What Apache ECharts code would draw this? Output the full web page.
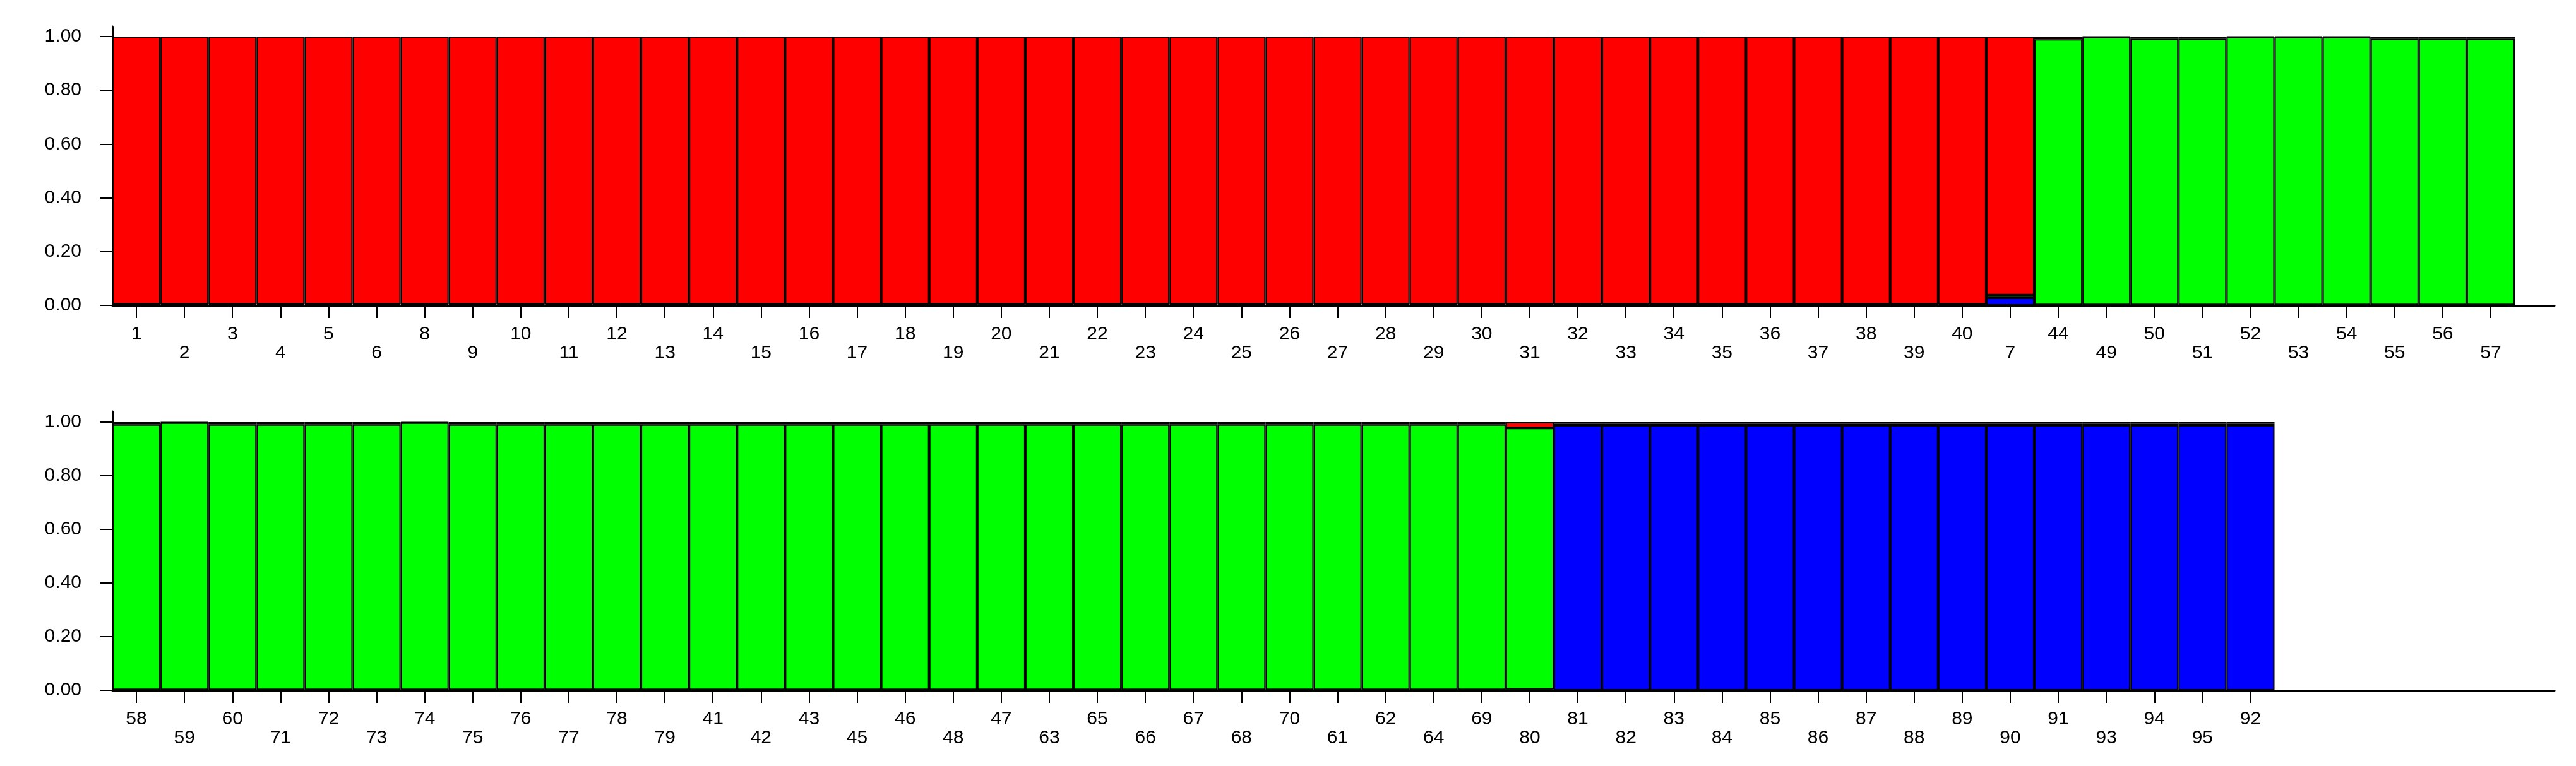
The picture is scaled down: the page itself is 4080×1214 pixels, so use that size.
<!DOCTYPE html>
<html>
<head>
<meta charset="utf-8">
<script src="https://cdn.jsdelivr.net/npm/echarts@6/dist/echarts.min.js"></script>
<style>
html,body{margin:0;padding:0;background:#fff;}
#chart{width:4080px;height:1214px;}
</style>
</head>
<body>
<div id="chart"></div>
<script>
// ---- Data ----
const topCategories = ['1','2','3','4','5','6','8','9','10','11','12','13','14','15','16','17','18','19','20','21','22','23','24','25','26','27','28','29','30','31','32','33','34','35','36','37','38','39','40','7','44','49','50','51','52','53','54','55','56','57'];
const topRed   = [0.996,0.996,0.996,0.996,0.996,0.996,0.996,0.996,0.996,0.996,0.996,0.996,0.996,0.996,0.996,0.996,0.996,0.996,0.996,0.996,0.996,0.996,0.996,0.996,0.996,0.996,0.996,0.996,0.996,0.996,0.996,0.996,0.996,0.996,0.996,0.996,0.996,0.996,0.996,0.962,0.010,0.002,0.009,0.009,0.002,0.002,0.002,0.009,0.009,0.009];
const topGreen = [0.002,0.002,0.002,0.002,0.002,0.002,0.002,0.002,0.002,0.002,0.002,0.002,0.002,0.002,0.002,0.002,0.002,0.002,0.002,0.002,0.002,0.002,0.002,0.002,0.002,0.002,0.002,0.002,0.002,0.002,0.002,0.002,0.002,0.002,0.002,0.002,0.002,0.002,0.002,0.010,0.988,0.996,0.989,0.989,0.996,0.996,0.996,0.989,0.989,0.989];
const topBlue  = [0.002,0.002,0.002,0.002,0.002,0.002,0.002,0.002,0.002,0.002,0.002,0.002,0.002,0.002,0.002,0.002,0.002,0.002,0.002,0.002,0.002,0.002,0.002,0.002,0.002,0.002,0.002,0.002,0.002,0.002,0.002,0.002,0.002,0.002,0.002,0.002,0.002,0.002,0.002,0.028,0.002,0.002,0.002,0.002,0.002,0.002,0.002,0.002,0.002,0.002];

const bottomCategories = ['58','59','60','71','72','73','74','75','76','77','78','79','41','42','43','45','46','48','47','63','65','66','67','68','70','61','62','64','69','80','81','82','83','84','85','86','87','88','89','90','91','93','94','95','92'];
const bottomRed   = [0.009,0.002,0.009,0.009,0.009,0.009,0.002,0.009,0.009,0.009,0.009,0.009,0.009,0.009,0.009,0.009,0.009,0.009,0.009,0.009,0.009,0.009,0.009,0.009,0.009,0.009,0.009,0.009,0.009,0.022,0.006,0.006,0.006,0.006,0.006,0.006,0.006,0.006,0.006,0.006,0.006,0.006,0.006,0.006,0.006];
const bottomGreen = [0.989,0.996,0.989,0.989,0.989,0.989,0.996,0.989,0.989,0.989,0.989,0.989,0.989,0.989,0.989,0.989,0.989,0.989,0.989,0.989,0.989,0.989,0.989,0.989,0.989,0.989,0.989,0.989,0.989,0.975,0.006,0.006,0.006,0.006,0.006,0.006,0.006,0.006,0.006,0.006,0.006,0.006,0.006,0.006,0.006];
const bottomBlue  = [0.002,0.002,0.002,0.002,0.002,0.002,0.002,0.002,0.002,0.002,0.002,0.002,0.002,0.002,0.002,0.002,0.002,0.002,0.002,0.002,0.002,0.002,0.002,0.002,0.002,0.002,0.002,0.002,0.002,0.003,0.988,0.988,0.988,0.988,0.988,0.988,0.988,0.988,0.988,0.988,0.988,0.988,0.988,0.988,0.988];

const yTickLabels = ['0.00','0.20','0.40','0.60','0.80','1.00'];

// ---- Chart ----
const FONT = '"Liberation Sans", Arial, sans-serif';
const chart = echarts.init(document.getElementById('chart'), null, {renderer:'canvas'});

function mainX(gridIndex, cats){
  return {
    type:'category', gridIndex, data:cats,
    axisLine:{show:false},
    axisTick:{show:true, alignWithLabel:true, interval:0, length:20, lineStyle:{color:'#000', width:2}},
    axisLabel:{show:true, interval:0, margin:31, color:'#000', fontSize:30, lineHeight:30, fontFamily:FONT,
      formatter:(v, i) => (i % 2 === 0 ? v : '\n' + v)},
    splitLine:{show:false}
  };
}
function mainY(gridIndex){
  return {
    type:'value', gridIndex, min:0, max:1, interval:0.2,
    axisLine:{show:false},
    axisTick:{show:true, length:20, lineStyle:{color:'#000', width:2}},
    axisLabel:{show:true, margin:49, color:'#000', fontSize:30, fontFamily:FONT,
      formatter:(v) => yTickLabels[Math.round(v / 0.2)]},
    splitLine:{show:false}
  };
}
function overlayX(gridIndex){
  return {type:'value', gridIndex, min:0, max:1,
    axisLine:{show:true, onZero:false, lineStyle:{color:'#000', width:3}},
    axisTick:{show:false}, axisLabel:{show:false}, splitLine:{show:false}};
}
function overlayY(gridIndex){
  return {type:'value', gridIndex, min:0, max:1,
    axisLine:{show:true, lineStyle:{color:'#000', width:3}},
    axisTick:{show:false}, axisLabel:{show:false}, splitLine:{show:false}};
}

const barStyle = (color) => ({color, borderColor:'#000', borderWidth:2});
function barSeries(name, data, color, axisIndex, stack){
  return {type:'bar', name, data, stack, xAxisIndex:axisIndex, yAxisIndex:axisIndex,
    barCategoryGap:0, itemStyle:barStyle(color), silent:true, animation:false};
}

chart.setOption({
  animation:false,
  backgroundColor:'#fff',
  grid:[
    {left:178, top:58,  width:3805,   height:426},
    {left:178, top:669, width:3424.5, height:425},
    {left:178, top:42,  width:3868,   height:442},
    {left:178, top:652, width:3868,   height:442}
  ],
  xAxis:[mainX(0, topCategories), mainX(1, bottomCategories), overlayX(2), overlayX(3)],
  yAxis:[mainY(0), mainY(1), overlayY(2), overlayY(3)],
  series:[
    barSeries('Cluster 3', topBlue,  '#0000FF', 0, 'top'),
    barSeries('Cluster 2', topGreen, '#00FF00', 0, 'top'),
    barSeries('Cluster 1', topRed,   '#FF0000', 0, 'top'),
    barSeries('Cluster 3', bottomBlue,  '#0000FF', 1, 'bottom'),
    barSeries('Cluster 2', bottomGreen, '#00FF00', 1, 'bottom'),
    barSeries('Cluster 1', bottomRed,   '#FF0000', 1, 'bottom')
  ]
});
</script>
</body>
</html>
